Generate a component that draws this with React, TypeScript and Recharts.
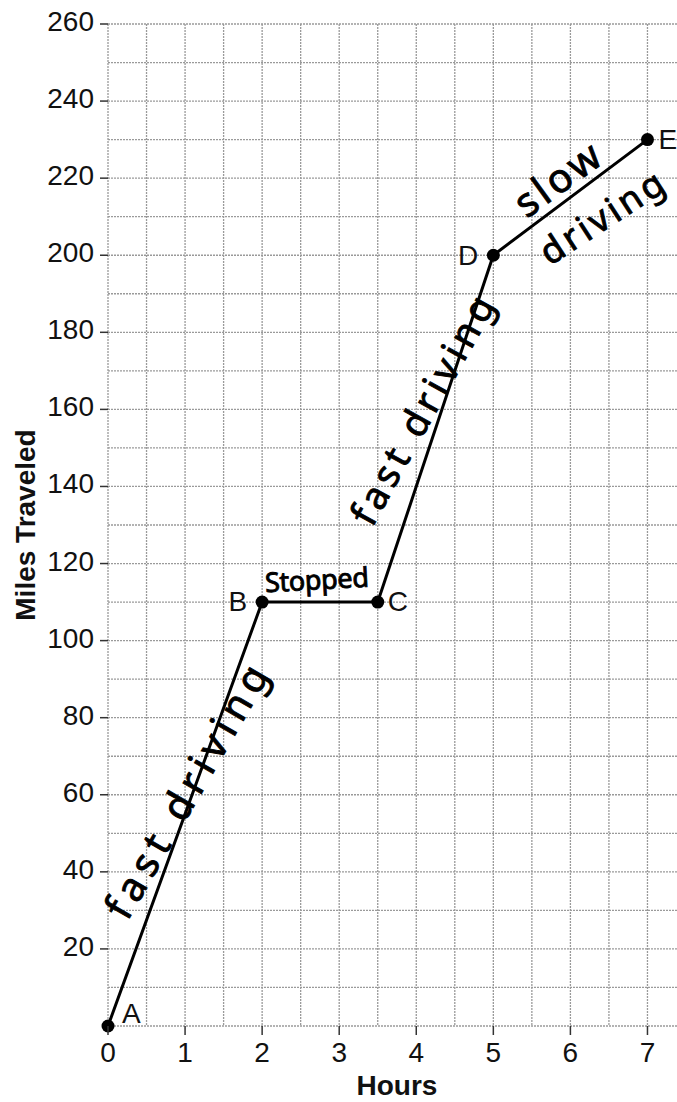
import React from 'react';
import { LineChart, Line, XAxis, YAxis, CartesianGrid, ReferenceDot, LabelList } from 'recharts';

// ---- data ----
const hours = [0, 2, 3.5, 5, 7];
const miles = [0, 110, 110, 200, 230];
const pointNames = ['A', 'B', 'C', 'D', 'E'];

const xGridTicks = [0, 0.5, 1, 1.5, 2, 2.5, 3, 3.5, 4, 4.5, 5, 5.5, 6, 6.5, 7, 7.5];
const yGridTicks = [0, 10, 20, 30, 40, 50, 60, 70, 80, 90, 100, 110, 120, 130, 140, 150, 160, 170, 180, 190, 200, 210, 220, 230, 240, 250, 260];
const xLabelTicks = [0, 1, 2, 3, 4, 5, 6, 7];
const yLabelTicks = [20, 40, 60, 80, 100, 120, 140, 160, 180, 200, 220, 240, 260];

const annotationTexts = ['fast driving', 'Stopped', 'fast driving', 'slow', 'driving'];
const annotationHours = [1.0, 2.71, 4.06, 5.82, 6.4];
const annotationMiles = [61, 116, 160, 220, 210];

const data = hours.map((h, i) => ({ hours: h, miles: miles[i], name: pointNames[i] }));

// ---- styles ----
const FONT = '"Liberation Sans", Arial, Helvetica, sans-serif';
const HAND = '"Noto Sans", "DejaVu Sans", sans-serif';
const TICK_SIZE = 28;

const pointLabelStyle = [
  { dx: 14, dy: -3, anchor: 'start' },
  { dx: -15, dy: 9, anchor: 'end' },
  { dx: 10, dy: 9, anchor: 'start' },
  { dx: -15, dy: 10, anchor: 'end' },
  { dx: 11, dy: 9, anchor: 'start' },
];

const annotationStyle = [
  { angle: -60, size: 40, length: 285 },
  { angle: -3, size: 27, length: 104 },
  { angle: -61, size: 38, length: 255 },
  { angle: -36, size: 40, length: 96 },
  { angle: -33, size: 36, length: 140 },
];

const XTick = (props: any) => {
  const { x, y, payload } = props;
  if (!xLabelTicks.includes(payload.value)) return null;
  return (
    <g>
      <line x1={x} x2={x} y1={y - 8 - 9} y2={y - 8} stroke="#333" strokeWidth={1.5} />
      <text x={x} y={y} dy={19} textAnchor="middle" fontFamily={FONT} fontSize={TICK_SIZE} fill="#111">
        {payload.value}
      </text>
    </g>
  );
};

const YTick = (props: any) => {
  const { x, y, payload } = props;
  if (!yLabelTicks.includes(payload.value)) return null;
  return (
    <g>
      <line x1={x + 6} x2={x + 14} y1={y} y2={y} stroke="#333" strokeWidth={1.5} />
      <text x={x} y={y} dy={7} textAnchor="end" fontFamily={FONT} fontSize={TICK_SIZE} fill="#111">
        {payload.value}
      </text>
    </g>
  );
};

const PointLabel = (props: any) => {
  const { x, y, index, value } = props;
  const s = pointLabelStyle[index];
  return (
    <text x={x + s.dx} y={y + s.dy} textAnchor={s.anchor} fontFamily={FONT} fontSize={28} fill="#111">
      {value}
    </text>
  );
};

const makeAnnotation = (i: number) => (p: any) => {
  const s = annotationStyle[i];
  const { cx, cy } = p;
  return (
    <text
      x={cx}
      y={cy}
      textAnchor="middle"
      dominantBaseline="central"
      transform={`rotate(${s.angle}, ${cx}, ${cy})`}
      fontFamily={HAND}
      fontSize={s.size}
      fill="#000"
      stroke="#000"
      strokeWidth={0.9}
      textLength={s.length}
      lengthAdjust="spacing"
    >
      {annotationTexts[i]}
    </text>
  );
};

const YLabel = (props: any) => {
  const vb = props.viewBox;
  const cx = vb.x + 35;
  const cy = vb.y + vb.height / 2;
  return (
    <text x={cx} y={cy} transform={`rotate(-90, ${cx}, ${cy})`} textAnchor="middle" fontFamily={FONT} fontWeight="bold" fontSize={28} fill="#111">
      Miles Traveled
    </text>
  );
};

const XLabel = (props: any) => {
  const vb = props.viewBox;
  return (
    <text x={vb.x + vb.width / 2} y={vb.y + 69} textAnchor="middle" fontFamily={FONT} fontWeight="bold" fontSize={28} fill="#111">
      Hours
    </text>
  );
};

export default function App() {
  return (
    <div style={{ position: 'absolute', left: 0, top: 0, width: 677, height: 1102, overflow: 'hidden', background: '#fff' }}>
      <LineChart width={686} height={1102} data={data} margin={{ top: 24, right: 0, bottom: 0, left: 0 }}>
        <CartesianGrid stroke="#9a9a9a" strokeWidth={1.3} strokeDasharray="2 1" />
        <XAxis
          type="number"
          dataKey="hours"
          domain={[0, 7.5]}
          ticks={xGridTicks}
          interval={0}
          height={76}
          tickSize={9}
          tickMargin={8}
          axisLine={false}
          tickLine={false}
          tick={<XTick />}
          label={<XLabel />}
        />
        <YAxis
          type="number"
          domain={[0, 260]}
          ticks={yGridTicks}
          interval={0}
          width={108}
          tickSize={8}
          tickMargin={6}
          axisLine={false}
          tickLine={false}
          tick={<YTick />}
          label={<YLabel />}
        />
        {annotationTexts.map((t, i) => (
          <ReferenceDot
            key={i}
            x={annotationHours[i]}
            y={annotationMiles[i]}
            r={1}
            ifOverflow="visible"
            shape={makeAnnotation(i)}
          />
        ))}
        <Line
          type="linear"
          dataKey="miles"
          stroke="#000"
          strokeWidth={3}
          dot={{ r: 6.5, fill: '#000', stroke: '#000', strokeWidth: 0 }}
          activeDot={false}
          isAnimationActive={false}
        >
          <LabelList dataKey="name" content={<PointLabel />} />
        </Line>
      </LineChart>
    </div>
  );
}
